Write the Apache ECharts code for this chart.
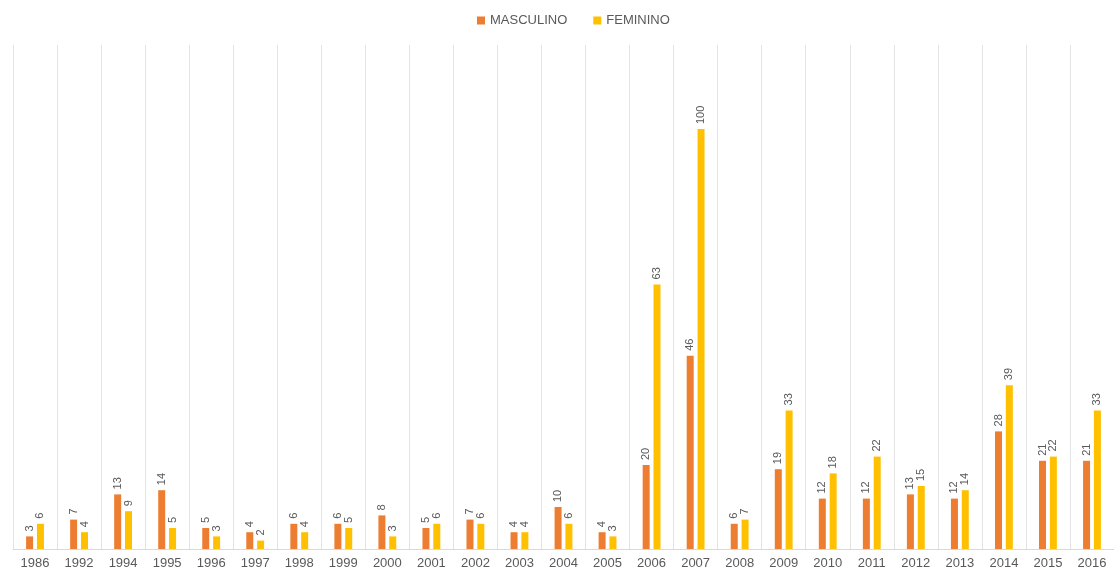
<!DOCTYPE html>
<html>
<head>
<meta charset="utf-8">
<script src="https://cdn.jsdelivr.net/npm/echarts@6/dist/echarts.min.js"></script>
<style>
  html, body { margin: 0; padding: 0; background: #fff; }
  #chart { width: 1114px; height: 573px; }
</style>
</head>
<body>
<div id="chart"></div>
<script>
// 年份
const years = ['1986', '1992', '1994', '1995', '1996', '1997', '1998', '1999', '2000', '2001', '2002', '2003', '2004',
  '2005', '2006', '2007', '2008', '2009', '2010', '2011', '2012', '2013', '2014', '2015', '2016'];
const masculino = [3, 7, 13, 14, 5, 4, 6, 6, 8, 5, 7, 4, 10, 4, 20, 46, 6, 19, 12, 12, 13, 12, 28, 21, 21];
const feminino = [6, 4, 9, 5, 3, 2, 4, 5, 3, 6, 6, 4, 6, 3, 63, 100, 7, 33, 18, 22, 15, 14, 39, 22, 33];

const textColor = '#595959';
const fontFamily = 'Liberation Sans, Arial, sans-serif';

const myChart = echarts.init(document.getElementById('chart'));

const barLabel = {
  show: true,
  position: 'top',
  rotate: 90,
  distance: 5,
  align: 'left',
  verticalAlign: 'middle',
  color: textColor,
  fontSize: 11,
  fontFamily: fontFamily
};

myChart.setOption({
  backgroundColor: '#fff',
  animation: false,
  legend: {
    top: 9,
    left: 472,
    itemWidth: 8,
    itemHeight: 8,
    itemGap: 26,
    icon: 'rect',
    textStyle: { color: textColor, fontSize: 13, fontFamily: fontFamily }
  },
  grid: {
    left: 13,
    right: -4,
    top: 45,
    bottom: 24
  },
  xAxis: {
    type: 'category',
    data: years,
    axisLine: { lineStyle: { color: '#d9d9d9' } },
    axisTick: { show: false },
    axisLabel: {
      color: textColor,
      fontSize: 13,
      fontFamily: fontFamily,
      margin: 8,
      interval: 0
    },
    splitLine: { show: true, lineStyle: { color: '#e3e3e3' } }
  },
  yAxis: {
    type: 'value',
    min: 0,
    max: 120,
    show: false
  },
  series: [
    {
      name: 'MASCULINO',
      type: 'bar',
      data: masculino,
      barWidth: 7,
      barGap: '55%',
      itemStyle: { color: '#ED7D31' },
      label: barLabel
    },
    {
      name: 'FEMININO',
      type: 'bar',
      data: feminino,
      barWidth: 7,
      itemStyle: { color: '#FFC000' },
      label: barLabel
    }
  ]
});
</script>
</body>
</html>
